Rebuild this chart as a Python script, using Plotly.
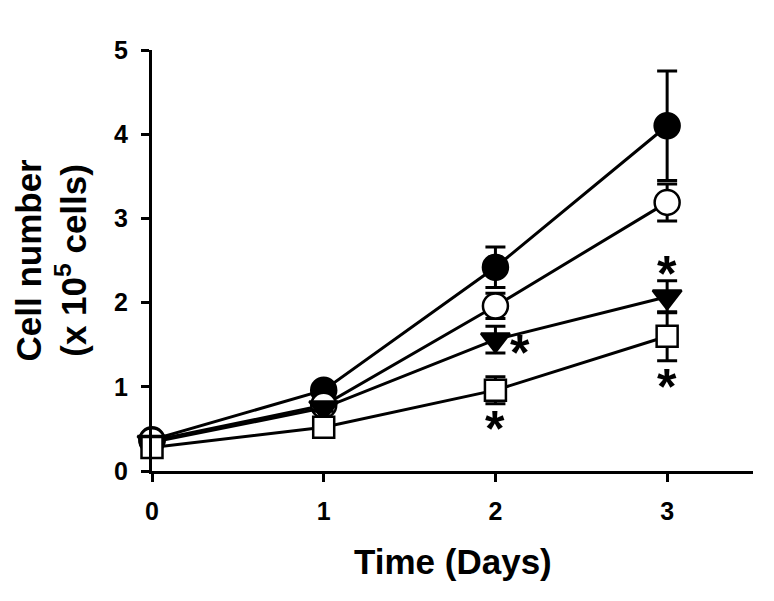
import plotly.graph_objects as go

days = [0, 1, 2, 3]

ctrl_y = [0.37, 0.96, 2.42, 4.10]
ctrl_err = [0.03, 0.05, 0.24, 0.65]

open_y = [0.36, 0.78, 1.96, 3.19]
open_err = [0.03, 0.05, 0.15, 0.22]

tri_y = [0.34, 0.75, 1.56, 2.07]
tri_err = [0.03, 0.04, 0.16, 0.19]

sq_y = [0.28, 0.52, 0.96, 1.60]
sq_err = [0.03, 0.04, 0.16, 0.29]

star_x = [2.145, 2.0, 3.0, 3.0]
star_y = [1.48, 0.58, 2.42, 1.08]

x_ticks = [0, 1, 2, 3]
y_ticks = [0, 1, 2, 3, 4, 5]

FONT = "Liberation Sans, Arial, sans-serif"

series = [
    (ctrl_y, ctrl_err, "circle", "black", 25),
    (open_y, open_err, "circle", "white", 25),
    (tri_y, tri_err, "triangle-down", "black", 25),
    (sq_y, sq_err, "square", "white", 21),
]

fig = go.Figure()
for y, err, sym, fill, size in series:
    fig.add_trace(go.Scatter(
        x=days, y=y, mode="lines+markers",
        line=dict(color="black", width=3),
        marker=dict(symbol=sym, size=size, color=fill,
                    line=dict(color="black", width=2.5)),
        error_y=dict(type="data", array=err, visible=True,
                     color="black", thickness=3, width=10),
        cliponaxis=False, showlegend=False,
    ))

for sx, sy in zip(star_x, star_y):
    fig.add_annotation(x=sx, y=sy, xref="x", yref="y", text="*",
                       showarrow=False, yshift=-7,
                       font=dict(family=FONT, size=50, color="black",
                                 weight="bold"))

fig.add_annotation(x=0.5, y=-0.216, xref="paper", yref="paper",
                   text="Time (Days)", showarrow=False,
                   xanchor="center", yanchor="middle",
                   font=dict(family=FONT, size=35, color="black", weight="bold"))
fig.add_annotation(x=-0.168, y=0.5, xref="paper", yref="paper",
                   text="Cell number<br>(x 10<sup>5</sup> cells)",
                   textangle=-90, showarrow=False,
                   xanchor="center", yanchor="middle",
                   font=dict(family=FONT, size=35, color="black", weight="bold"))

tick_font = dict(family=FONT, size=25, color="black", weight="bold")

fig.update_xaxes(range=[0, 3.5], tickvals=x_ticks,
                 showline=True, linecolor="black", linewidth=3,
                 ticks="outside", ticklen=8, tickwidth=3, tickcolor="black",
                 showgrid=False, zeroline=False, tickfont=tick_font,
                 ticklabelstandoff=8)
fig.update_yaxes(range=[0, 5], tickvals=y_ticks,
                 showline=True, linecolor="black", linewidth=3,
                 ticks="outside", ticklen=8, tickwidth=3, tickcolor="black",
                 showgrid=False, zeroline=False, tickfont=tick_font,
                 ticklabelstandoff=8)

# page body has an 8px margin, so the figure is shrunk by 8px to fit
fig.update_layout(
    width=766, height=593,
    margin=dict(l=144, r=21, t=42, b=130),
    plot_bgcolor="white", paper_bgcolor="white",
)

fig.write_html("out.html")
